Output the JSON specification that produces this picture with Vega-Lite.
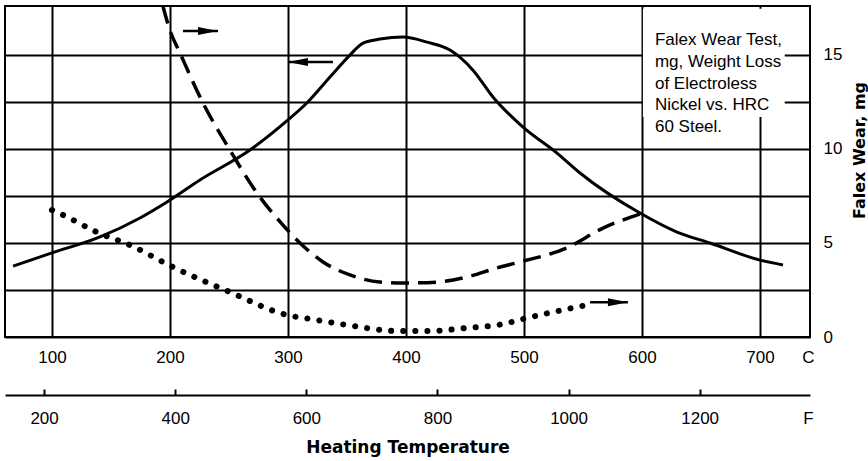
{
  "$schema": "https://vega.github.io/schema/vega-lite/v6.json",
  "width": 805,
  "height": 331,
  "autosize": {"type": "none"},
  "padding": {"left": 5, "top": 6, "right": 58, "bottom": 124},
  "background": "white",
  "config": {"view": {"stroke": "black", "strokeWidth": 2}, "font": "Liberation Sans"},
  "datasets": {
    "hardness": [
      {"temp_C": 67, "value": 3.77},
      {"temp_C": 100, "value": 4.47},
      {"temp_C": 140.7, "value": 5.32},
      {"temp_C": 174.6, "value": 6.33},
      {"temp_C": 197.5, "value": 7.18},
      {"temp_C": 225.4, "value": 8.35},
      {"temp_C": 267.8, "value": 9.94},
      {"temp_C": 300, "value": 11.54},
      {"temp_C": 316, "value": 12.44},
      {"temp_C": 335.6, "value": 13.82},
      {"temp_C": 352.5, "value": 14.99},
      {"temp_C": 363.6, "value": 15.63},
      {"temp_C": 378, "value": 15.84},
      {"temp_C": 397.5, "value": 15.95},
      {"temp_C": 417.8, "value": 15.68},
      {"temp_C": 437.3, "value": 15.26},
      {"temp_C": 456.8, "value": 14.19},
      {"temp_C": 473.7, "value": 12.76},
      {"temp_C": 499.2, "value": 11.16},
      {"temp_C": 528, "value": 9.78},
      {"temp_C": 547.5, "value": 8.72},
      {"temp_C": 598.3, "value": 6.59},
      {"temp_C": 629.7, "value": 5.58},
      {"temp_C": 657.6, "value": 5.0},
      {"temp_C": 700, "value": 4.09},
      {"temp_C": 719.5, "value": 3.83}
    ],
    "wear_dashed": [
      {"temp_C": 194, "wear": 17.6},
      {"temp_C": 200, "wear": 16.3},
      {"temp_C": 208.5, "wear": 15.1},
      {"temp_C": 228, "wear": 12.44},
      {"temp_C": 250.8, "wear": 9.94},
      {"temp_C": 273.7, "wear": 7.66},
      {"temp_C": 295.8, "wear": 5.95},
      {"temp_C": 310.2, "wear": 5.0},
      {"temp_C": 329.7, "wear": 3.99},
      {"temp_C": 352.5, "wear": 3.3},
      {"temp_C": 378, "wear": 2.92},
      {"temp_C": 397.5, "wear": 2.87},
      {"temp_C": 426.3, "wear": 2.92},
      {"temp_C": 451.7, "wear": 3.19},
      {"temp_C": 477, "wear": 3.67},
      {"temp_C": 496.6, "wear": 3.99},
      {"temp_C": 536, "wear": 4.73},
      {"temp_C": 567, "wear": 5.79},
      {"temp_C": 600.8, "wear": 6.59}
    ],
    "wear_dotted": [
      {"temp_C": 100, "wear": 6.75},
      {"temp_C": 109.3, "wear": 6.49},
      {"temp_C": 138, "wear": 5.58},
      {"temp_C": 166, "wear": 4.89},
      {"temp_C": 202.5, "wear": 3.72},
      {"temp_C": 250.8, "wear": 2.39},
      {"temp_C": 299.2, "wear": 1.17},
      {"temp_C": 318.6, "wear": 0.96},
      {"temp_C": 350, "wear": 0.64},
      {"temp_C": 392.4, "wear": 0.32},
      {"temp_C": 420.3, "wear": 0.32},
      {"temp_C": 451.7, "wear": 0.48},
      {"temp_C": 482.2, "wear": 0.69},
      {"temp_C": 502.5, "wear": 1.01},
      {"temp_C": 533, "wear": 1.44},
      {"temp_C": 553.4, "wear": 1.7}
    ],
    "arrows": [
      {"tail": 211.0, "tip": 240.7, "level": 16.27, "dir": "right"},
      {"tail": 338.1, "tip": 300.0, "level": 14.62, "dir": "left"},
      {"tail": 556.0, "tip": 588.1, "level": 1.85, "dir": "right"}
    ]
  },
  "layer": [
    {
      "data": {"name": "hardness"},
      "mark": {"type": "line", "color": "black", "strokeWidth": 3, "interpolate": "monotone"},
      "encoding": {
        "x": {
          "field": "temp_C", "type": "quantitative",
          "scale": {"domain": [60.2, 742.4], "nice": false, "zero": false},
          "axis": {
            "orient": "bottom", "title": null,
            "values": [100, 200, 300, 400, 500, 600, 700, 740.7],
            "format": "d",
            "labelExpr": "datum.value > 720 ? 'C' : datum.label",
            "grid": true, "gridColor": "black", "gridWidth": 2,
            "gridOpacity": {"condition": {"test": "datum.value > 720", "value": 0}, "value": 1},
            "domain": false, "ticks": false,
            "labelPadding": 12, "labelFont": "Liberation Sans", "labelFontSize": 17,
            "labelColor": "black", "labelFlush": false, "labelOverlap": false
          }
        },
        "y": {
          "field": "value", "type": "quantitative",
          "scale": {"domain": [0, 17.6], "nice": false, "zero": false},
          "axis": {
            "orient": "right", "title": "Falex Wear, mg",
            "values": [0, 2.5, 5, 7.5, 10, 12.5, 15],
            "labelExpr": "datum.value % 5 === 0 ? datum.label : ''",
            "grid": true, "gridColor": "black", "gridWidth": 2,
            "domain": false, "ticks": false,
            "labelPadding": 13, "labelFont": "Liberation Sans", "labelFontSize": 17,
            "labelColor": "black", "labelFlush": false, "labelOverlap": false,
            "titleFont": "DejaVu Sans", "titleFontWeight": "bold", "titleFontSize": 16,
            "titleColor": "black", "titleAngle": 270, "titleX": 54, "titleY": 144,
            "titleAlign": "center", "titleBaseline": "alphabetic"
          }
        }
      }
    },
    {
      "data": {"name": "wear_dashed"},
      "mark": {"type": "line", "color": "black", "strokeWidth": 3.5, "strokeDash": [18, 9], "interpolate": "monotone", "clip": true},
      "encoding": {
        "x": {
          "field": "temp_C", "type": "quantitative",
          "scale": {"domain": [60.2, 742.4], "nice": false, "zero": false},
          "axis": {
            "orient": "bottom", "offset": 58, "title": "Heating Temperature",
            "values": [93.333, 204.444, 315.556, 426.667, 537.778, 648.889, 740.7],
            "labelExpr": "datum.value > 720 ? 'F' : format(datum.value * 1.8 + 32, '.0f')",
            "grid": false, "domain": true, "domainColor": "black", "domainWidth": 2,
            "ticks": true, "tickSize": -6, "tickWidth": 2, "tickColor": "black",
            "tickOpacity": {"condition": {"test": "datum.value > 720", "value": 0}, "value": 1},
            "labelPadding": 21, "labelFont": "Liberation Sans", "labelFontSize": 17,
            "labelColor": "black", "labelFlush": false, "labelOverlap": false,
            "titleFont": "DejaVu Sans", "titleFontWeight": "bold", "titleFontSize": 17,
            "titleColor": "black", "titlePadding": 13
          }
        },
        "y": {
          "field": "wear", "type": "quantitative",
          "scale": {"domain": [0, 17.6], "nice": false, "zero": false},
          "axis": null
        }
      }
    },
    {
      "data": {"name": "wear_dotted"},
      "mark": {"type": "line", "color": "black", "strokeWidth": 6, "strokeDash": [0.1, 12], "strokeCap": "round", "interpolate": "monotone"},
      "encoding": {
        "x": {"field": "temp_C", "type": "quantitative", "scale": {"domain": [60.2, 742.4], "nice": false, "zero": false}, "axis": null},
        "y": {"field": "wear", "type": "quantitative", "scale": {"domain": [0, 17.6], "nice": false, "zero": false}, "axis": null}
      }
    },
    {
      "data": {"values": [{}]},
      "mark": {"type": "rect", "color": "white"},
      "encoding": {
        "x": {"datum": 600.8, "type": "quantitative", "scale": {"domain": [60.2, 742.4], "nice": false, "zero": false}, "axis": null},
        "x2": {"datum": 721},
        "y": {"datum": 11.7, "type": "quantitative", "scale": {"domain": [0, 17.6], "nice": false, "zero": false}, "axis": null},
        "y2": {"datum": 17.45}
      }
    },
    {
      "data": {"values": [{}]},
      "mark": {
        "type": "text", "align": "left", "baseline": "alphabetic",
        "font": "Liberation Sans", "fontSize": 17, "lineHeight": 21.7, "color": "black",
        "text": ["Falex Wear Test,", "mg, Weight Loss", "of Electroless", "Nickel vs. HRC", "60 Steel."]
      },
      "encoding": {
        "x": {"datum": 611, "type": "quantitative", "scale": {"domain": [60.2, 742.4], "nice": false, "zero": false}, "axis": null},
        "y": {"datum": 15.52, "type": "quantitative", "scale": {"domain": [0, 17.6], "nice": false, "zero": false}, "axis": null}
      }
    },
    {
      "data": {"name": "arrows"},
      "mark": {"type": "rule", "color": "black", "strokeWidth": 2.5},
      "encoding": {
        "x": {"field": "tail", "type": "quantitative", "scale": {"domain": [60.2, 742.4], "nice": false, "zero": false}, "axis": null},
        "x2": {"field": "tip"},
        "y": {"field": "level", "type": "quantitative", "scale": {"domain": [0, 17.6], "nice": false, "zero": false}, "axis": null}
      }
    },
    {
      "data": {"name": "arrows"},
      "mark": {"type": "point", "filled": true, "color": "black", "opacity": 1, "size": 100, "strokeWidth": 0},
      "encoding": {
        "x": {"field": "tip", "type": "quantitative", "scale": {"domain": [60.2, 742.4], "nice": false, "zero": false}, "axis": null},
        "y": {"field": "level", "type": "quantitative", "scale": {"domain": [0, 17.6], "nice": false, "zero": false}, "axis": null},
        "shape": {
          "field": "dir", "type": "nominal",
          "scale": {"domain": ["right", "left"], "range": ["M-4,-0.8L0,0L-4,0.8Z", "M4,-0.8L0,0L4,0.8Z"]},
          "legend": null
        }
      }
    }
  ],
  "resolve": {"axis": {"x": "independent", "y": "independent"}}
}
